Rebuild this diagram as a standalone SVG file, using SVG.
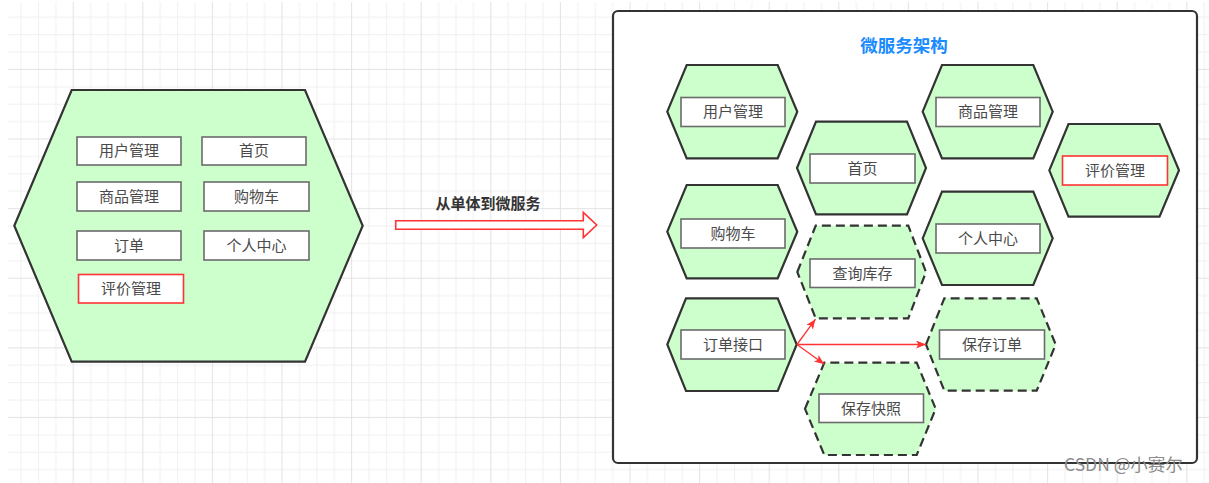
<svg xmlns="http://www.w3.org/2000/svg" width="1209" height="483" viewBox="0 0 1209 483">
  <defs>
    <pattern id="grid" patternUnits="userSpaceOnUse" x="3.1" y="-0.7" width="69.6" height="69.6">
      <rect x="0" y="0" width="69.6" height="69.6" fill="#ffffff"/>
      <g fill="#f1f1f1">
        <rect x="17.4" y="0" width="1" height="69.6"/>
        <rect x="34.8" y="0" width="1" height="69.6"/>
        <rect x="52.2" y="0" width="1" height="69.6"/>
        <rect x="0" y="17.4" width="69.6" height="1"/>
        <rect x="0" y="34.8" width="69.6" height="1"/>
        <rect x="0" y="52.2" width="69.6" height="1"/>
      </g>
      <g fill="#e3e3e3">
        <rect x="0" y="0" width="1" height="69.6"/>
        <rect x="0" y="0" width="69.6" height="1"/>
      </g>
    </pattern>
    <marker id="arr" markerUnits="userSpaceOnUse" markerWidth="12" markerHeight="10" refX="10" refY="4" orient="auto">
      <path d="M0,0 L10,4 L0,8 L2.5,4 Z" fill="#ff3333"/>
    </marker>
  </defs>
  <style>
    .hex { fill: #ccffcc; stroke: #333333; stroke-width: 2.2; stroke-linejoin: miter; }
    .dash { stroke-dasharray: 9 5; }
    .box { fill: #ffffff; stroke: #6b6b6b; stroke-width: 1.6; }
    .red { stroke: #ff3333; }
    .lbl { font-family: "Noto Sans CJK SC", "Noto Sans", sans-serif; font-size: 15px; fill: #4a4a4a; text-anchor: middle; }
    .conn { stroke: #ff3333; stroke-width: 1.3; fill: none; }
  </style>

  <rect x="8" y="2" width="1201" height="481" fill="url(#grid)"/>

  <!-- Left monolith -->
  <g id="monolith">
    <polygon class="hex" stroke-width="2.6" points="14.3,225.7 71.7,90 305,90 362.7,225.7 305,361.7 71.7,361.7"/>
    <rect class="box" x="77" y="137" width="104" height="28"/>
    <text class="lbl" x="129" y="156">用户管理</text>
    <rect class="box" x="202" y="137" width="104" height="28"/>
    <text class="lbl" x="254" y="156">首页</text>
    <rect class="box" x="77" y="182" width="104" height="29"/>
    <text class="lbl" x="129" y="201.5">商品管理</text>
    <rect class="box" x="204" y="182" width="105" height="29"/>
    <text class="lbl" x="256.5" y="201.5">购物车</text>
    <rect class="box" x="77" y="231" width="104" height="29"/>
    <text class="lbl" x="129" y="250.5">订单</text>
    <rect class="box" x="204" y="231" width="105" height="29"/>
    <text class="lbl" x="256.5" y="250.5">个人中心</text>
    <rect class="box red" x="78.5" y="274.5" width="105" height="28.5"/>
    <text class="lbl" x="131" y="294">评价管理</text>
  </g>

  <!-- Transition arrow -->
  <g id="transition">
    <polygon points="395.7,220.7 583.3,220.7 583.3,212.3 596.7,225 583.3,237.7 583.3,229.3 395.7,229.3" fill="#ffffff" stroke="#ff3333" stroke-width="1.6"/>
    <text x="488" y="209" font-family="'Noto Sans CJK SC', 'Noto Sans', sans-serif" font-size="15" font-weight="bold" fill="#333333" text-anchor="middle">从单体到微服务</text>
  </g>

  <!-- Microservice panel -->
  <g id="panel">
    <rect x="613" y="11" width="584" height="452" rx="5" fill="#ffffff" stroke="#333333" stroke-width="2.2"/>
    <text x="904" y="52" font-family="'Noto Sans CJK SC', 'Noto Sans', sans-serif" font-size="17.5" font-weight="bold" fill="#1a8cff" text-anchor="middle">微服务架构</text>
  </g>

  <g id="svc-user">
    <polygon class="hex" points="667.3,111.7 686.7,65 777.7,65 797.3,111.7 777.7,158.3 686.7,158.3"/>
    <rect class="box" x="681" y="97.5" width="104" height="29"/>
    <text class="lbl" x="733" y="117">用户管理</text>
  </g>

  <g id="svc-home">
    <polygon class="hex" points="797,168 816,121.7 907,121.7 926,168 907,214.3 816,214.3"/>
    <rect class="box" x="810" y="154" width="105" height="29"/>
    <text class="lbl" x="862.5" y="173.5">首页</text>
  </g>

  <g id="svc-goods">
    <polygon class="hex" points="922.7,111.7 942,65 1033.3,65 1052.7,111.7 1033.3,158.3 942,158.3"/>
    <rect class="box" x="936" y="97.5" width="104" height="29"/>
    <text class="lbl" x="988" y="117">商品管理</text>
  </g>

  <g id="svc-review">
    <polygon class="hex" points="1049.3,170.3 1068.5,124 1159.5,124 1179,170.3 1159.5,216.7 1068.5,216.7"/>
    <rect class="box red" x="1062.5" y="156" width="105" height="29"/>
    <text class="lbl" x="1115" y="175.5">评价管理</text>
  </g>

  <g id="svc-cart">
    <polygon class="hex" points="667.3,231.7 686.7,185 777.7,185 797.3,231.7 777.7,278.3 686.7,278.3"/>
    <rect class="box" x="681" y="219" width="104" height="29"/>
    <text class="lbl" x="733" y="238.5">购物车</text>
  </g>

  <g id="svc-profile">
    <polygon class="hex" points="922.7,238.3 942,191.7 1033.3,191.7 1052.7,238.3 1033.3,285 942,285"/>
    <rect class="box" x="936" y="224" width="104" height="29"/>
    <text class="lbl" x="988" y="243.5">个人中心</text>
  </g>

  <g id="svc-stock">
    <polygon class="hex dash" points="797.3,272 815.7,225.7 908.3,225.7 926,272 908.3,318.3 815.7,318.3"/>
    <rect class="box" x="810" y="259" width="105" height="28.5"/>
    <text class="lbl" x="862.5" y="278.5">查询库存</text>
  </g>

  <g id="svc-order">
    <polygon class="hex" points="667.3,344.5 686,298.3 777.7,298.3 796.7,344.5 777.7,391 686,391"/>
    <rect class="box" x="681" y="330" width="104" height="29"/>
    <text class="lbl" x="733" y="349.5">订单接口</text>
  </g>

  <g id="svc-saveorder">
    <polygon class="hex dash" points="926,344.5 944.3,298.3 1036.7,298.3 1055.7,344.5 1036.7,390.7 944.3,390.7"/>
    <rect class="box" x="939.5" y="330" width="105" height="29"/>
    <text class="lbl" x="992" y="349.5">保存订单</text>
  </g>

  <g id="svc-snapshot">
    <polygon class="hex dash" points="805,408.8 824.3,362.7 916.7,362.7 935.7,408.8 916.7,455 824.3,455"/>
    <rect class="box" x="819" y="394" width="104.5" height="28.5"/>
    <text class="lbl" x="871" y="413.5">保存快照</text>
  </g>

  <g id="connectors">
    <line class="conn" x1="797" y1="344.5" x2="815.5" y2="319.2" marker-end="url(#arr)"/>
    <line class="conn" x1="797" y1="344.5" x2="926" y2="344.5" marker-end="url(#arr)"/>
    <line class="conn" x1="797" y1="344.5" x2="824.3" y2="364.2" marker-end="url(#arr)"/>
  </g>

  <text x="1064" y="471" font-family="'Noto Sans CJK SC', 'Noto Sans', sans-serif" font-size="17.5" fill="#8c8c8c">CSDN @小赛尔</text>
</svg>
